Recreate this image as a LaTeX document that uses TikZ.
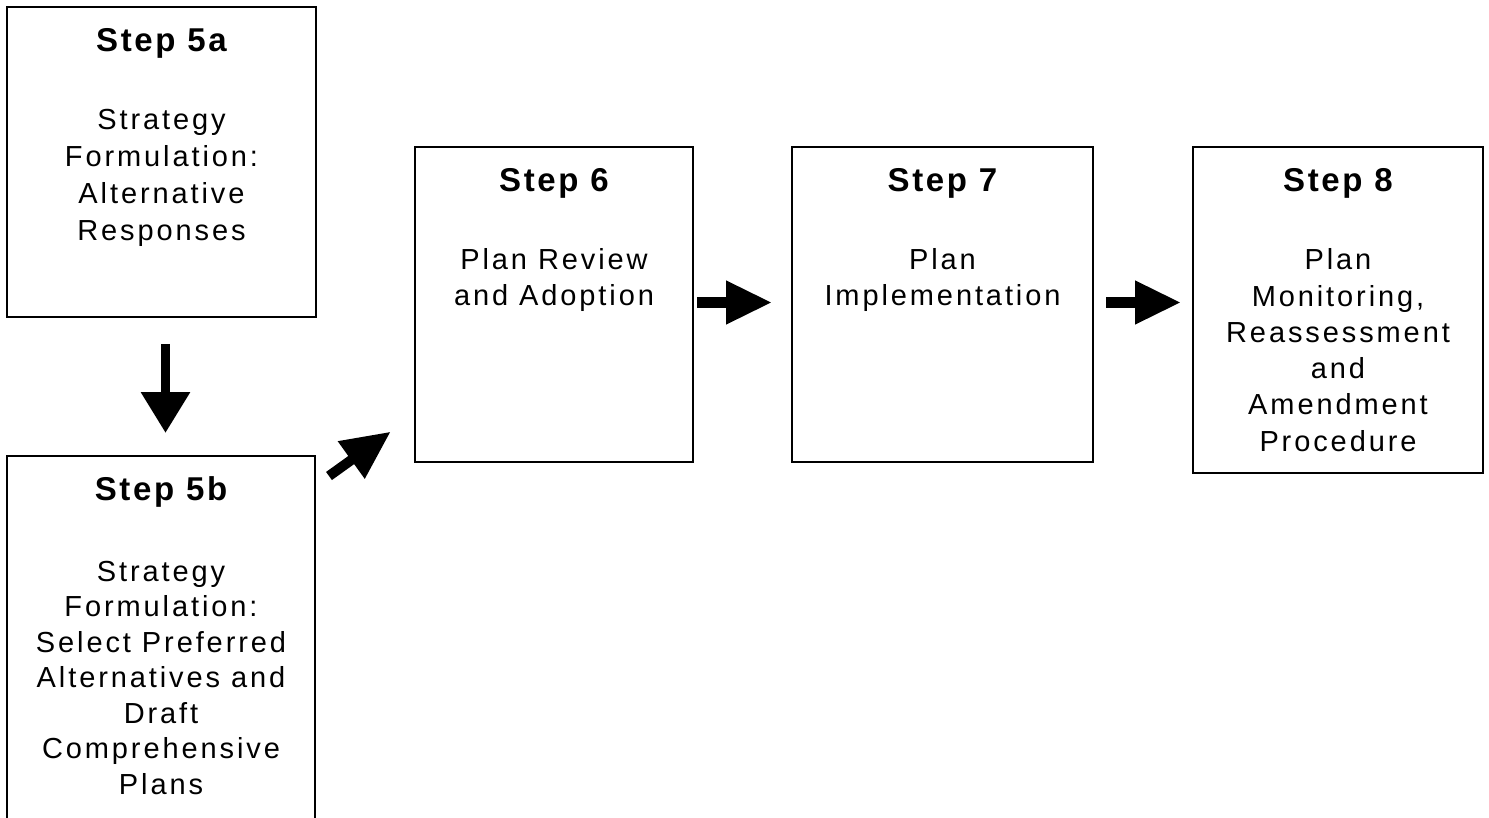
\documentclass[tikz,border=0pt]{standalone}
\usepackage{fontspec}
\usetikzlibrary{arrows.meta}
\newfontfamily\bodyfont{Liberation Sans}[LetterSpace=10]
\newfontfamily\titlefont{Liberation Sans}[LetterSpace=8]
\begin{document}
\begin{tikzpicture}[x=0.5pt,y=-0.5pt,
  stepbox/.style={draw, line width=1.2pt, rectangle, inner sep=0pt, fill=none},
  steptitle/.style={font={\titlefont\bfseries\fontsize{16.5pt}{20pt}\selectfont}, anchor=base, inner sep=0pt},
  steptext/.style={font={\bodyfont\fontsize{14.5pt}{18pt}\selectfont}, anchor=base, inner sep=0pt},
  hbarrow/.style={line width=5.25pt, -{Triangle[length=23pt 0 0, width=20.5pt 0 0]}},
  vbarrow/.style={line width=4.75pt, -{Triangle[length=20.5pt 0 0, width=23.5pt 0 0]}},
  dbarrow/.style={line width=5pt, -{Triangle[length=24.3pt 0 0, width=21.7pt 0 0]}}
]
\clip (0,0) rectangle (1489,818);
\fill[white] (0,0) rectangle (1489,818);

% boxes
\node[stepbox, minimum width=154.5pt, minimum height=155pt] (s5a) at (161.5,162) {};
\node[stepbox, minimum width=154pt, minimum height=192pt] (s5b) at (161,648) {};
\node[stepbox, minimum width=139pt, minimum height=157.5pt] (s6) at (554,304.5) {};
\node[stepbox, minimum width=150.5pt, minimum height=157.5pt] (s7) at (942.5,304.5) {};
\node[stepbox, minimum width=145pt, minimum height=163pt] (s8) at (1338,310) {};

% titles
\node[steptitle] (t5a) at (161.5,52) {Step 5a};
\node[steptitle] (t5b) at (161,500) {Step 5b};
\node[steptitle] (t6) at (554,192) {Step 6};
\node[steptitle] (t7) at (942.5,192) {Step 7};
\node[steptitle] (t8) at (1338,192) {Step 8};

% body texts
\foreach \t [count=\i] in {Strategy, Formulation:, Alternative, Responses}
  \node[steptext] (a\i) at (161.5,{130+37*(\i-1)}) {\t};
\foreach \t [count=\i] in {Strategy, Formulation:, Select Preferred, Alternatives and, Draft, Comprehensive, Plans}
  \node[steptext] (b\i) at (161,{581+35.5*(\i-1)}) {\t};
\foreach \t [count=\i] in {Plan Review, and Adoption}
  \node[steptext] (c\i) at (554,{270+36*(\i-1)}) {\t};
\foreach \t [count=\i] in {Plan, Implementation}
  \node[steptext] (d\i) at (942.5,{270+36*(\i-1)}) {\t};
\foreach \t [count=\i] in {Plan, {Monitoring,}, Reassessment, and, Amendment, Procedure}
  \node[steptext] (e\i) at (1338,{270+36.2*(\i-1)}) {\t};

% arrow end points
\coordinate (ds) at (165.5,344);
\coordinate (de) at (165.5,433);
\coordinate (gs) at (329,476);
\coordinate (ge) at (390.7,431.7);
\coordinate (h1s) at (697,302.5);
\coordinate (h1e) at (772,302.5);
\coordinate (h2s) at (1106,302.5);
\coordinate (h2e) at (1181,302.5);

\draw[vbarrow] (ds) -- (de);
\draw[dbarrow] (gs) -- (ge);
\draw[hbarrow] (h1s) -- (h1e);
\draw[hbarrow] (h2s) -- (h2e);
\end{tikzpicture}
\end{document}
